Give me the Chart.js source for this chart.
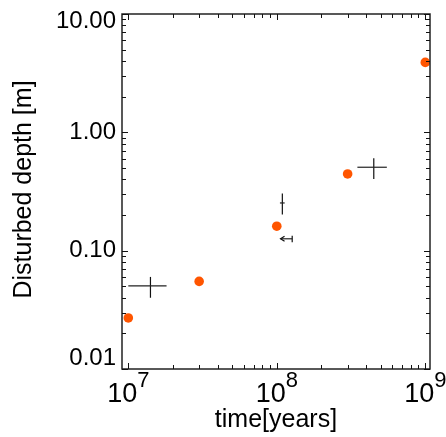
<!DOCTYPE html>
<html>
<head>
<meta charset="utf-8">
<script src="https://cdn.jsdelivr.net/npm/chart.js@4.4.0/dist/chart.umd.min.js"></script>
<style>
  html, body { margin: 0; padding: 0; background: #ffffff; }
  #wrap { width: 446px; height: 437px; position: relative; }
</style>
</head>
<body>
<div id="wrap"><canvas id="c" width="446" height="437"></canvas></div>
<script>
// ---- data ----
const orangeX = [1.0e7, 3.0e7, 1.0e8, 3.0e8, 1.0e9];
const orangeY = [0.027, 0.055, 0.161, 0.445, 3.9];

const crossX     = [1.41e7, 1.09e8, 1.27e8, 4.5e8];
const crossY     = [0.0504, 0.253, 0.126, 0.507];
const crossXLow  = [1.0e7, 1.05e8, 1.06e8, 3.49e8];
const crossXHigh = [1.81e7, 1.13e8, 1.27e8, 5.51e8];
const crossYLow  = [0.040, 0.202, 0.118, 0.404];
const crossYHigh = [0.060, 0.304, 0.134, 0.604];
const crossArrowLeft = [false, false, true, false];

const yTickValues = [0.01, 0.1, 1, 10];
const yTickLabels = ['0.01', '0.10', '1.00', '10.00'];
const xTickExponents = [7, 8, 9];

const xTitle = 'time[years]';
const yTitle = 'Disturbed depth [m]';

// ---- datasets ----
const datasets = [];
datasets.push({
  type: 'scatter',
  data: orangeX.map((x, i) => ({ x: x, y: orangeY[i] })),
  backgroundColor: '#ff5500',
  borderColor: '#ff5500',
  pointRadius: 4.8,
  pointHoverRadius: 4.8,
  borderWidth: 0
});
crossX.map((x, i) => {
  datasets.push({
    type: 'line',
    data: [{ x: crossXLow[i], y: crossY[i] }, { x: crossXHigh[i], y: crossY[i] }],
    borderColor: '#222222', borderWidth: 1.2, pointRadius: 0, fill: false
  });
  datasets.push({
    type: 'line',
    data: [{ x: x, y: crossYLow[i] }, { x: x, y: crossYHigh[i] }],
    borderColor: '#111111', borderWidth: 1.2, pointRadius: 0, fill: false
  });
});

const FONT = '"Liberation Sans", Arial, sans-serif';

const axesPlugin = {
  id: 'axesPlugin',
  afterDraw(chart) {
    const ctx = chart.ctx;
    const a = chart.chartArea;
    const xs = chart.scales.x, ys = chart.scales.y;
    ctx.save();
    // arrowheads
    ctx.strokeStyle = '#111';
    ctx.lineWidth = 1.2;
    crossX.forEach((x, i) => {
      if (!crossArrowLeft[i]) return;
      const px = xs.getPixelForValue(crossXLow[i]);
      const py = ys.getPixelForValue(crossY[i]);
      ctx.beginPath();
      ctx.moveTo(px + 4, py - 2.5);
      ctx.lineTo(px, py);
      ctx.lineTo(px + 4, py + 2.5);
      ctx.stroke();
    });
    // box
    ctx.strokeStyle = '#222';
    ctx.lineWidth = 1.5;
    ctx.strokeRect(a.left, a.top, a.right - a.left, a.bottom - a.top);
    ctx.lineWidth = 1;
    ctx.strokeStyle = '#111';
    // x ticks
    const xmin = xs.min, xmax = xs.max;
    for (let e = 6; e <= 9; e++) {
      for (let k = 1; k <= 9; k++) {
        const v = k * Math.pow(10, e);
        if (v < xmin || v > xmax) continue;
        const px = Math.round(xs.getPixelForValue(v)) + 0.5;
        const len = k === 1 ? 6 : 4;
        ctx.beginPath();
        ctx.moveTo(px, a.bottom); ctx.lineTo(px, a.bottom - len);
        ctx.moveTo(px, a.top); ctx.lineTo(px, a.top + len);
        ctx.stroke();
      }
    }
    // y ticks
    for (let e = -2; e <= 1; e++) {
      for (let k = 1; k <= 9; k++) {
        const v = k * Math.pow(10, e);
        if (v < ys.min - 1e-12 || v > ys.max + 1e-9) continue;
        const py = Math.round(ys.getPixelForValue(v)) + 0.5;
        const len = k === 1 ? 6 : 4;
        ctx.beginPath();
        ctx.moveTo(a.left, py); ctx.lineTo(a.left + len, py);
        ctx.moveTo(a.right, py); ctx.lineTo(a.right - len, py);
        ctx.stroke();
      }
    }
    // y tick labels
    ctx.fillStyle = '#000';
    ctx.font = '24px ' + FONT;
    ctx.textAlign = 'right';
    ctx.textBaseline = 'middle';
    yTickValues.forEach((v, i) => {
      let py = ys.getPixelForValue(v);
      py = Math.min(Math.max(py, a.top + 7), a.bottom - 11);
      ctx.fillText(yTickLabels[i], 116, py);
    });
    // x tick labels 10^n
    ctx.textAlign = 'left';
    ctx.textBaseline = 'alphabetic';
    xTickExponents.forEach((n) => {
      const px = xs.getPixelForValue(Math.pow(10, n));
      ctx.font = '27px ' + FONT;
      const wb = ctx.measureText('10').width;
      ctx.font = '22px ' + FONT;
      const we = ctx.measureText(String(n)).width;
      const x0 = px - (wb + we) / 2;
      ctx.font = '27px ' + FONT;
      ctx.fillText('10', x0, 402);
      ctx.font = '22px ' + FONT;
      ctx.fillText(String(n), x0 + wb, 387);
    });
    // axis titles
    ctx.font = '25px ' + FONT;
    ctx.textAlign = 'center';
    ctx.fillText(xTitle, (a.left + a.right) / 2, 427);
    ctx.save();
    ctx.translate(31, (a.top + a.bottom) / 2 - 2);
    ctx.rotate(-Math.PI / 2);
    ctx.textBaseline = 'alphabetic';
    ctx.fillText(yTitle, 0, 0);
    ctx.restore();
    ctx.restore();
  }
};

new Chart(document.getElementById('c'), {
  data: { datasets: datasets },
  options: {
    responsive: false,
    animation: false,
    events: [],
    layout: { padding: { left: 0, right: 16, top: 14, bottom: 0 } },
    plugins: { legend: { display: false }, tooltip: { enabled: false }, title: { display: false } },
    scales: {
      x: {
        type: 'logarithmic', min: 9.07e6, max: 1.076e9,
        grid: { display: false }, border: { display: false },
        ticks: { display: false },
        afterFit(s) { s.height = 68; }
      },
      y: {
        type: 'logarithmic', min: 0.01, max: 10,
        grid: { display: false }, border: { display: false },
        ticks: { display: false },
        afterFit(s) { s.width = 122; }
      }
    }
  },
  plugins: [axesPlugin]
});
</script>
</body>
</html>
